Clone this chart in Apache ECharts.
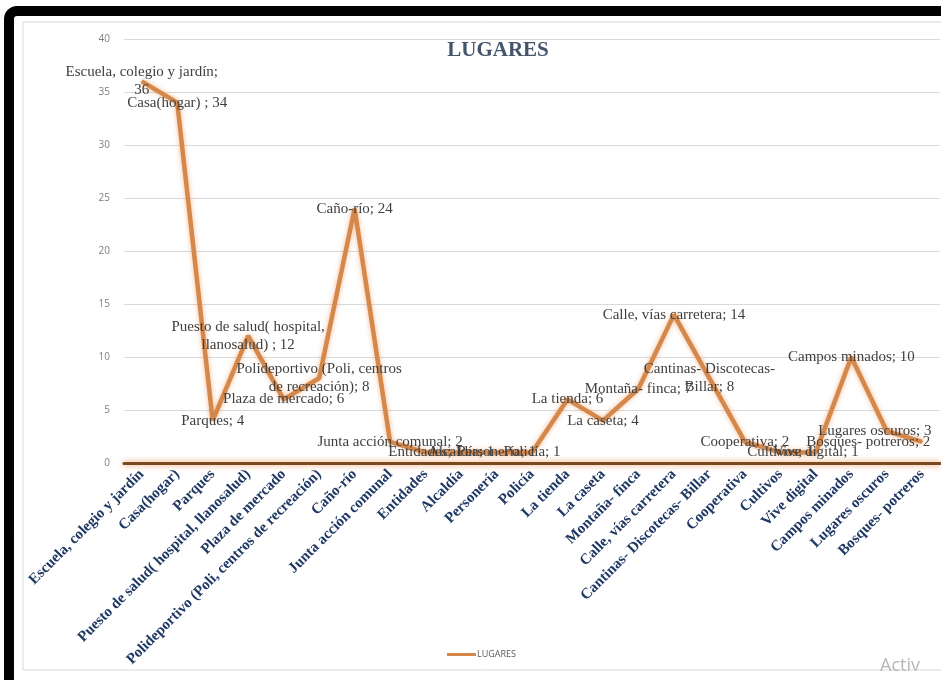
<!DOCTYPE html>
<html>
<head>
<meta charset="utf-8">
<script src="https://cdn.jsdelivr.net/npm/echarts@6/dist/echarts.min.js"></script>
<style>
html,body{margin:0;padding:0;background:#fff;}
#chart{width:941px;height:680px;}
</style>
</head>
<body>
<div id="chart"></div>
<script>
var categories = [
  'Escuela, colegio y jardín', 'Casa(hogar)', 'Parques',
  'Puesto de salud( hospital, llanosalud)', 'Plaza de mercado',
  'Polideportivo (Poli, centros de recreación)', 'Caño-río',
  'Junta acción comunal', 'Entidades', 'Alcaldía', 'Personería', 'Policía',
  'La tienda', 'La caseta', 'Montaña- finca', 'Calle, vías carretera',
  'Cantinas- Discotecas- Billar', 'Cooperativa', 'Cultivos', 'Vive digital',
  'Campos minados', 'Lugares oscuros', 'Bosques- potreros'
];
var values = [36, 34, 4, 12, 6, 8, 24, 2, 1, 1, 1, 1, 6, 4, 7, 14, 8, 2, 1, 1, 10, 3, 2];
var dataLabels = [
  'Escuela, colegio y jardín;\n36', 'Casa(hogar) ; 34', 'Parques; 4',
  'Puesto de salud( hospital,\nllanosalud) ; 12', 'Plaza de mercado; 6',
  'Polideportivo (Poli, centros\nde recreación); 8', 'Caño-río; 24',
  'Junta acción comunal; 2', 'Entidades; 1', 'Alcaldía; 1', 'Personería; 1', 'Policía; 1',
  'La tienda; 6', 'La caseta; 4', 'Montaña- finca; 7', 'Calle, vías carretera; 14',
  'Cantinas- Discotecas-\nBillar; 8', 'Cooperativa; 2', 'Cultivos; 1', 'Vive digital; 1',
  'Campos minados; 10', 'Lugares oscuros; 3', 'Bosques- potreros; 2'
];
var yTicks = [0, 5, 10, 15, 20, 25, 30, 35, 40];
var seriesName = 'LUGARES';

var labelShift = {21: [-12, 0], 22: [-54, 0]};

var seriesData = values.map(function (v, i) {
  var d = {value: v};
  if (labelShift[i]) d.label = {offset: labelShift[i]};
  return d;
});

var chart = echarts.init(document.getElementById('chart'));
chart.setOption({
  backgroundColor: '#ffffff',
  animation: false,
  title: {
    text: 'LUGARES',
    left: 493, top: 35, textAlign: 'center',
    textStyle: {fontFamily: 'Liberation Serif', fontWeight: 'bold', fontSize: 21, color: '#44546a'}
  },
  graphic: [
    {type: 'rect', shape: {x: 9, y: 11, width: 1000, height: 1000, r: 8},
     style: {fill: 'none', stroke: '#000', lineWidth: 10}, z: 100},
    {type: 'rect', shape: {x: 23, y: 22, width: 1000, height: 648},
     style: {fill: 'none', stroke: '#d9d9d9', lineWidth: 1}, z: 99},
    {type: 'text', left: 880, top: 657,
     style: {text: 'Activ', font: '18px "Open Sans"', fill: '#b8b8b8'}, z: 101}
  ],
  legend: {
    data: [seriesName],
    left: 442, top: 645,
    icon: 'rect', itemWidth: 29, itemHeight: 3, itemGap: 4,
    textStyle: {fontFamily: 'Open Sans', fontSize: 9, color: '#595959', padding: [0, 0, 0, -4]}
  },
  grid: {left: 124, right: 1, top: 39, bottom: 217, containLabel: false},
  xAxis: {
    type: 'category',
    data: categories,
    boundaryGap: true,
    axisTick: {show: false},
    axisLine: {lineStyle: {color: '#7a4a1e', width: 3, shadowColor: 'rgba(237,125,49,0.8)', shadowBlur: 6}},
    axisLabel: {
      rotate: 45, interval: 0, margin: 9,
      fontFamily: 'Liberation Serif', fontWeight: 'bold', fontSize: 15, color: '#1f3864'
    }
  },
  yAxis: {
    type: 'value',
    min: yTicks[0], max: yTicks[yTicks.length - 1], interval: 5,
    axisLine: {show: false}, axisTick: {show: false},
    axisLabel: {margin: 14, fontFamily: 'Open Sans', fontSize: 10, color: '#7f7f7f'},
    splitLine: {lineStyle: {color: '#d9d9d9', width: 1}}
  },
  series: [{
    name: seriesName,
    type: 'line',
    data: seriesData,
    symbol: 'circle', symbolSize: 1,
    itemStyle: {color: '#d4884c'},
    lineStyle: {color: '#d4884c', width: 4.5, shadowColor: 'rgba(237,125,49,0.55)', shadowBlur: 5},
    label: {
      show: true, position: 'inside', align: 'center', verticalAlign: 'middle',
      fontFamily: 'Liberation Serif', fontSize: 15, color: '#404040', lineHeight: 18,
      formatter: function (p) { return dataLabels[p.dataIndex]; }
    },
    z: 3
  }]
});
</script>
</body>
</html>
